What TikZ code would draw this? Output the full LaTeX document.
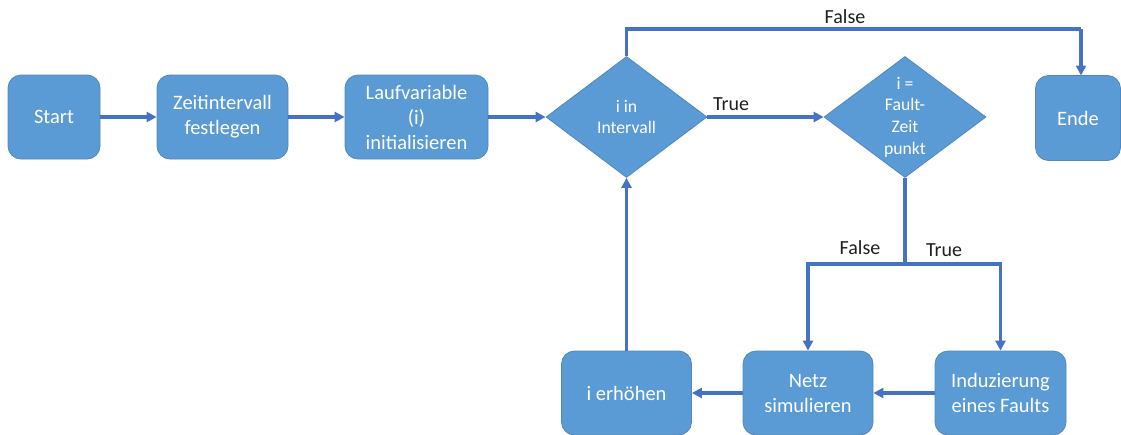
\documentclass[tikz,border=0pt]{standalone}
\usepackage{fontspec}
\setmainfont{Carlito}
\usetikzlibrary{shapes.geometric,arrows.meta}
\definecolor{boxfill}{HTML}{5B9BD5}
\definecolor{boxline}{HTML}{4F88BE}
\definecolor{conncol}{HTML}{4472C4}
\begin{document}
\begin{tikzpicture}[x=1pt,y=-1pt,
  box/.style={draw=boxline,line width=0.8pt,fill=boxfill,rounded corners=13pt,
    text=white,align=center,inner sep=0pt,
    font=\fontsize{20.5}{25}\selectfont},
  dec/.style={draw=boxline,line width=0.8pt,fill=boxfill,diamond,aspect=1.33,
    text=white,align=center,inner sep=0pt,
    minimum width=161pt,minimum height=121pt,
    font=\fontsize{17.7}{21.6}\selectfont},
  arrowline/.style={draw=conncol,line width=3.3pt,-{Triangle[length=10pt,width=10pt]}},
  plainline/.style={draw=conncol,line width=3.3pt},
  lbl/.style={text=black!88,inner sep=0pt,font=\fontsize{20}{24}\selectfont}]
\useasboundingbox (0,0) rectangle (1121,434);
% nodes
\node[box,minimum width=92pt,minimum height=84pt] (start) at (54,117) {Start};
\node[box,minimum width=131pt,minimum height=84pt] (zeit) at (222.5,117) {Zeitintervall\\festlegen};
\node[box,minimum width=143pt,minimum height=84pt] (lauf) at (416.5,117) {Laufvariable\\(i)\\initialisieren};
\node[dec] (d1) at (626.5,117) {i in\\Intervall};
\node[dec,minimum width=162pt] (d2) at (905,117) {i =\\Fault-\\Zeit\\punkt};
\node[box,minimum width=85pt,minimum height=85pt] (ende) at (1078,118) {Ende};
\node[box,minimum width=130pt,minimum height=84pt] (ierh) at (626.5,393) {i erhöhen};
\node[box,minimum width=130pt,minimum height=84pt] (netz) at (808,393) {Netz\\simulieren};
\node[box,minimum width=131pt,minimum height=84pt] (induz) at (1000.5,393) {Induzierung\\eines Faults};
% helper coordinates
\coordinate (ftop) at (626.5,29);
\coordinate (fend) at (1081,29);
\coordinate (endtop) at (1081,75.5);
\coordinate (split) at (905,264);
% connectors
\draw[arrowline] (start.east) -- (zeit.west);
\draw[arrowline] (zeit.east) -- (lauf.west);
\draw[arrowline] (lauf.east) -- (d1.west);
\draw[arrowline] (d1.east) -- (d2.west);
\draw[plainline] (d1.north) -- (ftop) -- (fend);
\draw[arrowline] (fend) -- (endtop);
\draw[plainline] (d2.south) -- (split);
\draw[arrowline] (split) -| (netz.north);
\draw[arrowline] (split) -| (induz.north);
\draw[arrowline] (induz.west) -- (netz.east);
\draw[arrowline] (netz.west) -- (ierh.east);
\draw[arrowline] (ierh.north) -- (d1.south);
% labels
\node[lbl] (lfalse1) at (845,17) {False};
\node[lbl] (ltrue1) at (731,104) {True};
\node[lbl] (lfalse2) at (860,248) {False};
\node[lbl] (ltrue2) at (944,250) {True};
\end{tikzpicture}
\end{document}
